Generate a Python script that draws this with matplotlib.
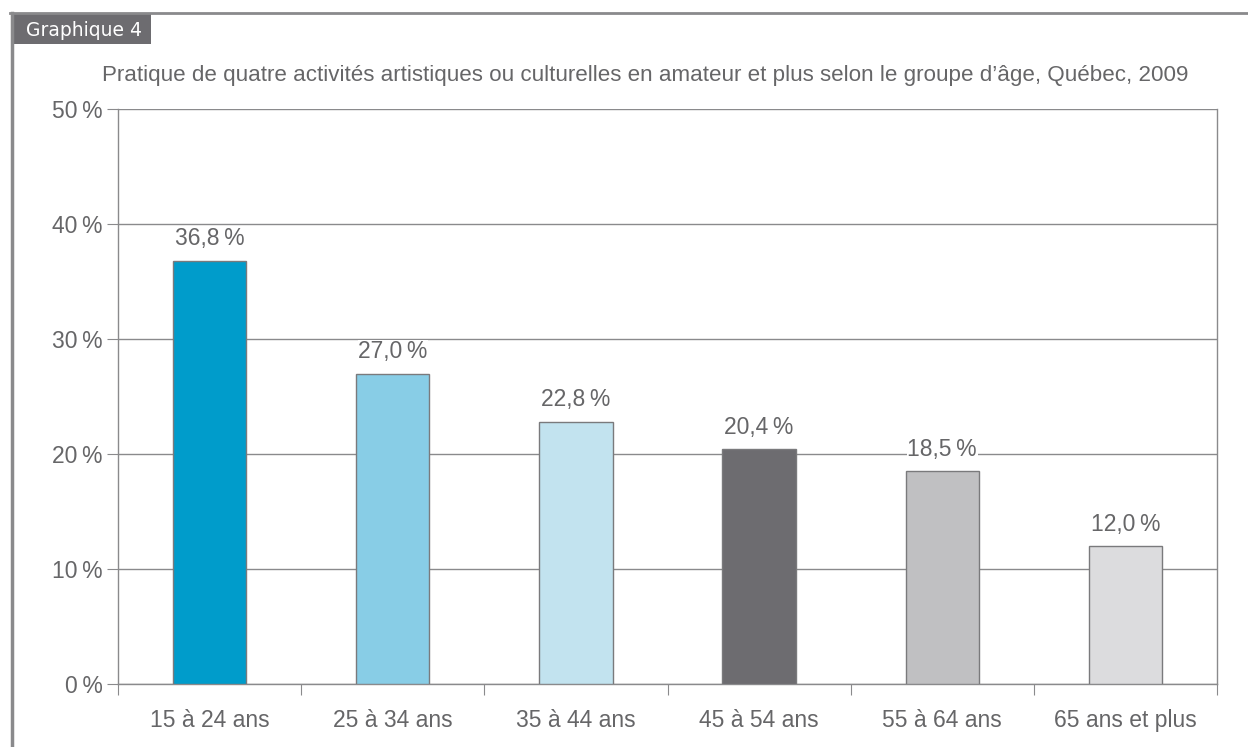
import matplotlib
matplotlib.use("Agg")
import matplotlib.pyplot as plt
from matplotlib.patches import Rectangle
from matplotlib.lines import Line2D

categories = ["15 à 24 ans", "25 à 34 ans", "35 à 44 ans", "45 à 54 ans", "55 à 64 ans", "65 ans et plus"]
values = [36.8, 27.0, 22.8, 20.4, 18.5, 12.0]
colors = ["#009ccb", "#88cde6", "#c2e3ef", "#6d6c70", "#c0c0c2", "#dcdcde"]
yticks = [0, 10, 20, 30, 40, 50]
title = "Pratique de quatre activités artistiques ou culturelles en amateur et plus selon le groupe d\u2019âge, Québec, 2009"
tab_label = "Graphique 4"

plt.rcParams['font.family'] = ['Liberation Sans', 'DejaVu Sans']
W, H = 1248, 747
fig = plt.figure(figsize=(W/100, H/100), dpi=100)
txt = "#666668"
grid = "#8a8a8c"
SP = "\u2009"

# frame lines
fig.add_artist(Line2D([10/W, 1], [1-13/H, 1-13/H], color="#8a8a8c", lw=2))
fig.add_artist(Line2D([12/W, 12/W], [0, 1-13/H], color="#8a8a8c", lw=2.5))
fig.add_artist(Rectangle((12/W, 1-44/H), 139/W, 31/H, facecolor="#6d6c70", edgecolor="none"))
fig.text(26/W, 1-30/H, tab_label, color="white", fontsize=13.5, va="center", ha="left",
         family=['Liberation Sans Narrow', 'DejaVu Sans Condensed', 'DejaVu Sans'])

ax = fig.add_axes([118/W, 1-684/H, (1217-118)/W, (684-109)/H])
x = list(range(len(categories)))
ax.bar(x, values, width=0.4, color=colors, edgecolor="#7a7a7c", linewidth=1, zorder=3)
ax.set_xlim(-0.5, len(categories)-0.5)
ax.set_ylim(0, 50)
ax.set_yticks(yticks)
ax.set_yticklabels([f"{v}{SP}%" for v in yticks])
ax.yaxis.grid(True, color=grid, lw=1, zorder=0)
ax.set_axisbelow(True)
ax.set_xticks([i - 0.5 for i in range(len(categories)+1)], minor=False)
ax.set_xticklabels([])
ax.set_xticks(x, minor=True)
ax.set_xticklabels(categories, minor=True)
ax.tick_params(axis='x', which='major', length=8, color=grid, direction='out')
ax.tick_params(axis='x', which='minor', length=0, pad=18, labelsize=16.5, labelcolor=txt)
ax.tick_params(axis='y', length=8, color=grid, pad=3, labelsize=16.5, labelcolor=txt)
ax.spines["top"].set_visible(False)
for s in ["left", "bottom", "right"]:
    ax.spines[s].set_color(grid)
    ax.spines[s].set_linewidth(1)

for i, v in enumerate(values):
    ax.text(i, v + 0.9, f"{v:.1f}".replace(".", ",") + SP + "%", ha="center", va="bottom",
            fontsize=16.5, color=txt, zorder=4,
            bbox=dict(facecolor="white", edgecolor="none", pad=0.3))

fig.text(645/W, 1-75/H, title, ha="center", va="center", fontsize=16.1, color=txt)

fig.savefig("out.png", dpi=100, facecolor="white")
